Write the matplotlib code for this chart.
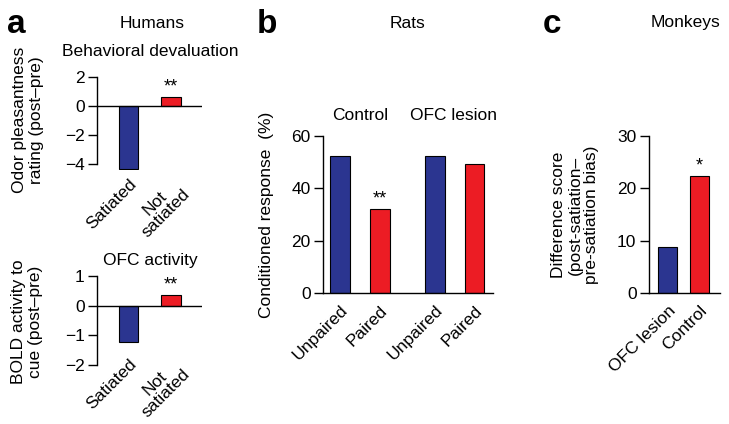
import matplotlib
matplotlib.use("Agg")
import matplotlib.pyplot as plt

plt.rcParams['font.family'] = ['Liberation Sans', 'DejaVu Sans']
plt.rcParams['font.size'] = 12.5

# panel a - humans
a_labels = ["Satiated", "Not\nsatiated"]
a_rating = [-4.3, 0.6]
a_bold = [-1.23, 0.37]
# panel b - rats
b_labels = ["Unpaired", "Paired", "Unpaired", "Paired"]
b_values = [52.5, 32.2, 52.5, 49.2]
# panel c - monkeys
c_labels = ["OFC lesion", "Control"]
c_values = [8.8, 22.4]

BLUE = "#2B3590"
RED = "#EC1C24"

W, H = 729, 424
fig = plt.figure(figsize=(W / 100, H / 100), dpi=100)


def px_axes(x0, y0, x1, y1):
    # axes from pixel box (top-left origin)
    return fig.add_axes([x0 / W, 1 - y1 / H, (x1 - x0) / W, (y1 - y0) / H])


def ftext(x, y, s, **kw):
    fig.text(x / W, 1 - y / H, s, **kw)


def style(ax, ylo, yhi, ticks):
    for s in ["top", "right"]:
        ax.spines[s].set_visible(False)
    ax.spines["left"].set_bounds(ylo, yhi)
    ax.spines["left"].set_linewidth(1.0)
    ax.spines["bottom"].set_linewidth(1.0)
    ax.set_yticks(ticks)
    ax.tick_params(axis="y", length=6.5, width=1.0, pad=2.5)
    ax.tick_params(axis="x", length=0)


def bars(ax, pos, vals, width, labels, pad):
    ax.bar(pos, vals, width=width, color=[BLUE, RED] * (len(vals) // 2),
           edgecolor="black", linewidth=0.8, zorder=2)
    ax.set_xticks(pos)
    ax.set_xticklabels(labels, rotation=45, ha="right", va="top",
                       rotation_mode="anchor", multialignment="center",
                       linespacing=1.0)
    ax.tick_params(axis="x", pad=pad)


def stars(ax, x, y, s):
    ax.annotate(s, (x, y), xytext=(0, 1), textcoords="offset points",
                ha="center", va="bottom", fontsize=13)


# a top
ax1 = px_axes(97, 77, 202, 170)
bars(ax1, [0, 1], a_rating, 0.45, a_labels, 4.5)
ax1.set_xlim(-0.74, 1.73)
ax1.set_ylim(-4.4, 2)
style(ax1, -4, 2, [-4, -2, 0, 2])
ax1.spines["bottom"].set_visible(False)
ax1.axhline(0, color="black", linewidth=1.0, zorder=3)
stars(ax1, 1, a_rating[1], "**")

# a bottom
ax2 = px_axes(97, 276, 202, 365)
bars(ax2, [0, 1], a_bold, 0.45, a_labels, -6.5)
ax2.set_xlim(-0.74, 1.73)
ax2.set_ylim(-2, 1)
style(ax2, -2, 1, [-2, -1, 0, 1])
ax2.spines["bottom"].set_visible(False)
ax2.axhline(0, color="black", linewidth=1.0, zorder=3)
stars(ax2, 1, a_bold[1], "**")

# b
ax3 = px_axes(323, 136, 493, 293)
b_pos = [0, 1, 2.4, 3.4]
bars(ax3, b_pos, b_values, 0.5, b_labels, 7)
ax3.set_xlim(-0.44, 3.87)
ax3.set_ylim(0, 60)
style(ax3, 0, 60, [0, 20, 40, 60])
stars(ax3, 1, b_values[1], "**")

# c
ax4 = px_axes(649, 136, 720, 293)
bars(ax4, [0, 1], c_values, 0.6, c_labels, 7)
ax4.set_xlim(-0.58, 1.64)
ax4.set_ylim(0, 30)
style(ax4, 0, 30, [0, 10, 20, 30])
stars(ax4, 1, c_values[1], "*")

# titles and labels
ftext(16, 33, "a", fontsize=24, fontweight="bold", ha="center", va="baseline")
ftext(267, 33, "b", fontsize=24, fontweight="bold", ha="center", va="baseline")
ftext(552, 33, "c", fontsize=24, fontweight="bold", ha="center", va="baseline")
ftext(152, 23, "Humans", ha="center", va="center")
ftext(407, 23, "Rats", ha="center", va="center")
ftext(685, 23, "Monkeys", ha="center", va="center")
ftext(150, 52, "Behavioral devaluation", ha="center", va="center")
ftext(150, 260, "OFC activity", ha="center", va="center")
ftext(360, 116, "Control", ha="center", va="center")
ftext(454, 116, "OFC lesion", ha="center", va="center")

ylab = dict(rotation=90, ha="center", va="center", multialignment="center",
            linespacing=1.15)
ftext(28, 120, "Odor pleasantness\nrating (post\u2013pre)", **ylab)
ftext(27, 322, "BOLD activity to\ncue (post\u2013pre)", **ylab)
ftext(266, 215, "Conditioned response  (%)", **ylab)
ftext(575, 215, "Difference score\n(post-satiation\u2013\npre-satiation bias)", **ylab)

fig.savefig("out.png", dpi=100)
